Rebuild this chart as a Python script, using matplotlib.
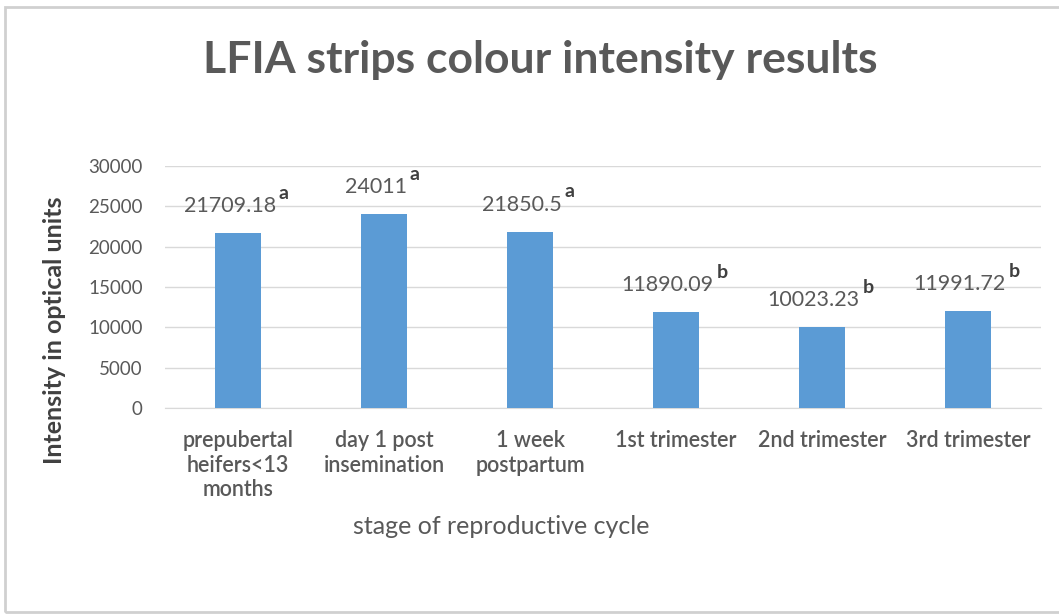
import matplotlib
matplotlib.use("Agg")
import matplotlib.pyplot as plt
from matplotlib.patches import Rectangle

# Data
categories = ["prepubertal\nheifers<13\nmonths", "day 1 post\ninsemination", "1 week\npostpartum",
              "1st trimester", "2nd trimester", "3rd trimester"]
values = [21709.18, 24011, 21850.5, 11890.09, 10023.23, 11991.72]
value_labels = ["21709.18", "24011", "21850.5", "11890.09", "10023.23", "11991.72"]
group_letters = ["a", "a", "a", "b", "b", "b"]
yticks = [0, 5000, 10000, 15000, 20000, 25000, 30000]

plt.rcParams['font.family'] = ['Lato', 'DejaVu Sans']
TEXT = "#595959"
BAR = "#5B9BD5"
GRID = "#D9D9D9"

W, H = 1059, 615
fig = plt.figure(figsize=(W / 100, H / 100), dpi=100)
fig.patch.set_facecolor("white")

# Chart-area frame
fig.add_artist(Rectangle((5 / W, 3 / H), 1.2, (H - 10) / H, transform=fig.transFigure,
                         fill=False, edgecolor="#D0D0D0", linewidth=2.0))

ax = fig.add_axes([165 / W, 1 - 408 / H, 876 / W, 242 / H])
x = list(range(len(values)))
ax.bar(x, values, width=0.31, color=BAR, zorder=3)
ax.set_xlim(-0.5, len(values) - 0.5)
ax.set_ylim(0, 30000)
ax.set_yticks(yticks)
ax.set_yticklabels([str(v) for v in yticks], fontsize=13.5, color=TEXT)
ax.set_xticks(x)
ax.set_xticklabels(categories, fontsize=15.5, color=TEXT, fontweight="semibold",
                   linespacing=1.2, va="top")
ax.tick_params(axis="both", length=0)
ax.tick_params(axis="y", pad=16)
ax.tick_params(axis="x", pad=16)
ax.yaxis.grid(True, color=GRID, linewidth=1.0, zorder=0)
for s in ax.spines.values():
    s.set_visible(False)
ax.spines["bottom"].set_visible(True)
ax.spines["bottom"].set_color(GRID)

# Value labels with group letters as superscripts
for xi, v, lab, let in zip(x, values, value_labels, group_letters):
    t = ax.annotate(lab, xy=(xi, v), xytext=(-6, 15), textcoords="offset points",
                    ha="center", va="baseline", fontsize=15.5, color=TEXT)
    ax.annotate(let, xy=(1, 1), xycoords=t, xytext=(2, -4), textcoords="offset points",
                ha="left", va="bottom", fontsize=14, fontweight="bold", color="#404040")

fig.text(540 / W, 1 - 60 / H, "LFIA strips colour intensity results", ha="center", va="center",
         fontsize=32, fontweight="bold", color=TEXT)
fig.text(55 / W, 1 - 330 / H, "Intensity in optical units", rotation=90, ha="center", va="center",
         fontsize=18, fontweight="bold", color="#404040")
fig.text(501 / W, 1 - 527 / H, "stage of reproductive cycle", ha="center", va="center",
         fontsize=18, color=TEXT)

fig.savefig("out.png", dpi=100)
